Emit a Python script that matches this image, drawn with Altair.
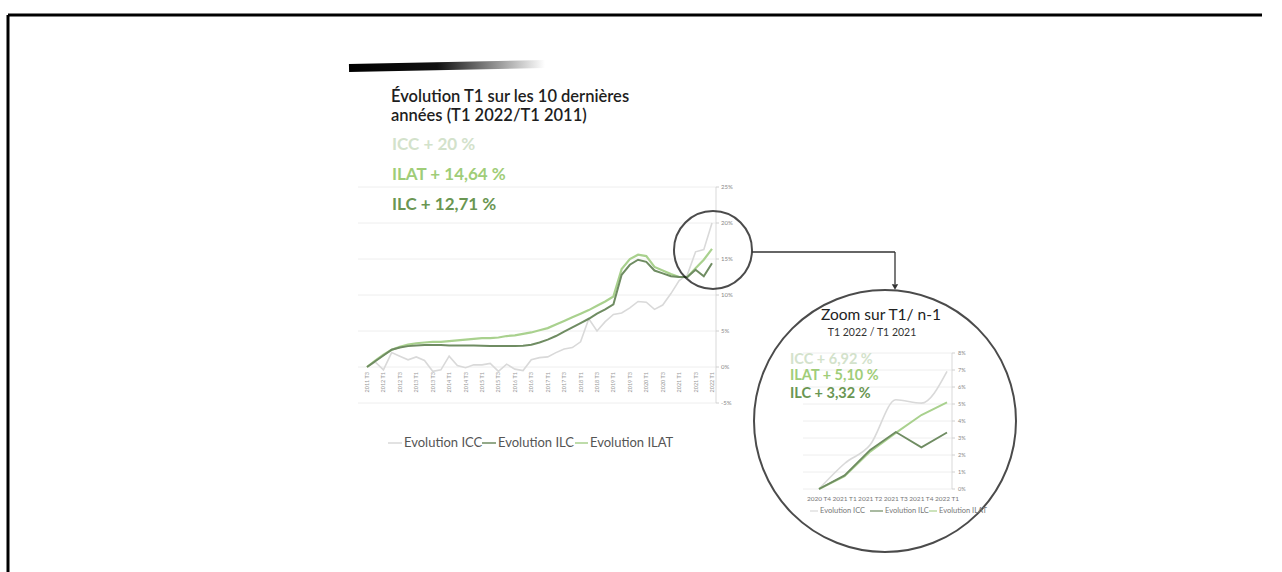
import altair as alt
import pandas as pd

# ---------------- data ----------------
x_tick_labels = ["2011 T3", "2012 T1", "2012 T3", "2013 T1", "2013 T3", "2014 T1", "2014 T3",
                 "2015 T1", "2015 T3", "2016 T1", "2016 T3", "2017 T1", "2017 T3", "2018 T1",
                 "2018 T3", "2019 T1", "2019 T3", "2020 T1", "2020 T3", "2021 T1", "2021 T3",
                 "2022 T1"]
y_tick_values = [-5, 0, 5, 10, 15, 20, 25]

icc = [0, 0.7, -0.4, 2.0, 1.5, 1.0, 1.4, 0.9, -0.6, -0.4, 1.5, 0.2, -0.1, 0.3, 0.3, 0.5,
       -0.6, 0.4, -0.3, -0.5, 1.0, 1.3, 1.4, 2.0, 2.5, 2.7, 3.5, 6.7, 5.0, 6.3, 7.3, 7.5,
       8.2, 9.1, 9.0, 8.0, 8.6, 10.2, 12.0, 12.8, 16.0, 16.3, 20.0]
ilc = [0, 0.8, 1.6, 2.4, 2.7, 2.9, 3.0, 3.05, 3.05, 3.05, 3.0, 3.0, 3.0, 3.0, 2.95, 2.9,
       2.9, 2.9, 2.9, 2.95, 3.1, 3.4, 3.8, 4.3, 4.9, 5.5, 6.1, 6.7, 7.4, 8.0, 8.7, 12.8,
       14.2, 14.9, 14.6, 13.4, 13.0, 12.6, 12.5, 12.5, 13.5, 12.6, 14.4]
ilat = [0, 0.9, 1.7, 2.4, 2.8, 3.1, 3.3, 3.4, 3.5, 3.5, 3.6, 3.7, 3.8, 3.9, 4.0, 4.0,
        4.1, 4.3, 4.4, 4.6, 4.8, 5.1, 5.4, 5.9, 6.4, 6.9, 7.4, 7.9, 8.5, 9.1, 9.8, 13.6,
        15.0, 15.6, 15.4, 13.9, 13.4, 12.9, 12.5, 12.5, 13.7, 14.9, 16.4]

series_names = ["Evolution ICC", "Evolution ILC", "Evolution ILAT"]
title_lines = ["Évolution T1 sur les 10 dernières", "années (T1 2022/T1 2011)"]
headlines = ["ICC + 20 %", "ILAT + 14,64 %", "ILC + 12,71 %"]

inset_periods = ["2020 T4", "2021 T1", "2021 T2", "2021 T3", "2021 T4", "2022 T1"]
inset_icc = [0, 1.5, 2.6, 5.25, 5.05, 6.92]
inset_ilc = [0, 0.8, 2.3, 3.35, 2.45, 3.32]
inset_ilat = [0, 0.75, 2.2, 3.3, 4.35, 5.10]
inset_y_ticks = [0, 1, 2, 3, 4, 5, 6, 7, 8]
inset_titles = ["Zoom sur T1/ n-1", "T1 2022 / T1 2021"]
inset_headlines = ["ICC + 6,92 %", "ILAT + 5,10 %", "ILC + 3,32 %"]

# ---------------- styles ----------------
FONT = "Lato"
C_ICC, C_ILC, C_ILAT = "#d9d9d9", "#6f8c62", "#a9d18e"
H_ICC, H_ILAT, H_ILC = "#d3e2cb", "#9fcd78", "#6a9652"

main_x = alt.Scale(domain=[0, 42], range=[367, 712], nice=False, zero=False)
main_y = alt.Scale(domain=[-5, 25], range=[403, 187], nice=False, zero=False)
ins_x = alt.Scale(domain=[0, 5], range=[819, 947], nice=False, zero=False)
ins_y = alt.Scale(domain=[0, 8], range=[489, 353], nice=False, zero=False)

one = pd.DataFrame({"k": [0]})


def txt(text, x, y, size, color, weight="normal", align="left", baseline="middle"):
    return alt.Chart(pd.DataFrame({"t": [text]})).mark_text(
        align=align, baseline=baseline, fontSize=size, font=FONT,
        fontWeight=weight, color=color
    ).encode(x=alt.value(x), y=alt.value(y), text="t:N")


def seg(x1, y1, x2, y2, color, width):
    return alt.Chart(one).mark_rule(color=color, strokeWidth=width).encode(
        x=alt.value(x1), y=alt.value(y1), x2=alt.value(x2), y2=alt.value(y2))


layers = []

# frame
layers.append(seg(8, 15, 1262, 15, "black", 3))
layers.append(seg(8, 15, 8, 572, "black", 3))

# brush stroke
layers.append(alt.Chart(one).mark_rule(
    strokeWidth=8, strokeCap="butt",
    stroke=alt.LinearGradient(gradient="linear", x1=0, x2=1, y1=0, y2=0,
                              stops=[alt.GradientStop(color="#000000", offset=0),
                                     alt.GradientStop(color="#111111", offset=0.45),
                                     alt.GradientStop(color="#ffffff", offset=1)])
).encode(x=alt.value(349), y=alt.value(68), x2=alt.value(545), y2=alt.value(64)))

# ---- main chart ----
grid_df = pd.DataFrame({"v": y_tick_values,
                        "lab": [f"{v}%" for v in y_tick_values]})
layers.append(alt.Chart(grid_df).mark_rule(color="#eeeeee", strokeWidth=1).encode(
    y=alt.Y("v:Q", scale=main_y, axis=None), x=alt.value(358), x2=alt.value(716)))
layers.append(seg(716, 187, 716, 403, "#d9d9d9", 1))
layers.append(alt.Chart(grid_df).mark_rule(color="#d0d0d0", strokeWidth=1).encode(
    y=alt.Y("v:Q", scale=main_y, axis=None), x=alt.value(716), x2=alt.value(719)))
layers.append(alt.Chart(grid_df).mark_text(
    align="left", baseline="middle", fontSize=6, font=FONT, color="#888888").encode(
    y=alt.Y("v:Q", scale=main_y, axis=None), x=alt.value(721), text="lab:N"))

xl_df = pd.DataFrame({"q": list(range(0, 43, 2)), "lab": x_tick_labels})
layers.append(alt.Chart(xl_df).mark_text(
    align="right", baseline="middle", angle=270, fontSize=5.5, font=FONT,
    color="#999999").encode(
    x=alt.X("q:Q", scale=main_x, axis=None), y=alt.value(372), text="lab:N"))

for vals, color, w in [(icc, C_ICC, 1.6), (ilat, C_ILAT, 2.2), (ilc, C_ILC, 2.0)]:
    df = pd.DataFrame({"q": list(range(len(vals))), "v": vals})
    layers.append(alt.Chart(df).mark_line(color=color, strokeWidth=w).encode(
        x=alt.X("q:Q", scale=main_x, axis=None),
        y=alt.Y("v:Q", scale=main_y, axis=None)))

# main legend
for (x1, x2, xt), name, color in zip([(388, 402, 404), (482, 496, 498), (575, 588, 590)],
                                     series_names, [C_ICC, C_ILC, C_ILAT]):
    layers.append(seg(x1, 443, x2, 443, color, 1.5))
    layers.append(txt(name, xt, 443, 13, "#555555"))

# titles
layers.append(txt(title_lines[0], 391, 97, 16.5, "#1e1e1e", weight=600))
layers.append(txt(title_lines[1], 391, 116, 16.5, "#1e1e1e", weight=600))
for s, y, c in zip(headlines, [145, 175, 205], [H_ICC, H_ILAT, H_ILC]):
    layers.append(txt(s, 392, y, 17, c, weight="bold"))

# small circle + connector
layers.append(alt.Chart(one).mark_point(shape="circle", filled=False, stroke="black",
                                        strokeWidth=2, size=78 * 78).encode(
    x=alt.value(713), y=alt.value(250)))
layers.append(seg(752, 252, 895, 252, "#333333", 1.3))
layers.append(seg(895, 252, 895, 284, "#333333", 1.3))
layers.append(alt.Chart(one).mark_point(shape="triangle-down", filled=True, color="#333333",
                                        size=40, opacity=1).encode(
    x=alt.value(895), y=alt.value(287)))

# big circle
layers.append(alt.Chart(one).mark_point(shape="circle", filled=False, stroke="black",
                                        strokeWidth=2, size=262 * 262).encode(
    x=alt.value(885), y=alt.value(421)))

# ---- inset chart ----
ig_df = pd.DataFrame({"v": inset_y_ticks, "lab": [f"{v}%" for v in inset_y_ticks]})
layers.append(alt.Chart(ig_df).mark_rule(color="#eeeeee", strokeWidth=1).encode(
    y=alt.Y("v:Q", scale=ins_y, axis=None), x=alt.value(803), x2=alt.value(952)))
layers.append(seg(952, 353, 952, 489, "#d9d9d9", 1))
layers.append(alt.Chart(ig_df).mark_rule(color="#d0d0d0", strokeWidth=1).encode(
    y=alt.Y("v:Q", scale=ins_y, axis=None), x=alt.value(952), x2=alt.value(955)))
layers.append(alt.Chart(ig_df).mark_text(
    align="left", baseline="middle", fontSize=5.5, font=FONT, color="#888888").encode(
    y=alt.Y("v:Q", scale=ins_y, axis=None), x=alt.value(958), text="lab:N"))

ixl_df = pd.DataFrame({"i": list(range(len(inset_periods))), "lab": inset_periods})
layers.append(alt.Chart(ixl_df).mark_text(
    align="center", baseline="middle", fontSize=6.5, font=FONT, color="#777777").encode(
    x=alt.X("i:Q", scale=ins_x, axis=None), y=alt.value(499), text="lab:N"))

for vals, color, w, interp in [(inset_icc, C_ICC, 1.6, "monotone"),
                               (inset_ilat, C_ILAT, 2.0, "linear"),
                               (inset_ilc, C_ILC, 1.8, "linear")]:
    df = pd.DataFrame({"i": list(range(len(vals))), "v": vals})
    layers.append(alt.Chart(df).mark_line(color=color, strokeWidth=w,
                                          interpolate=interp).encode(
        x=alt.X("i:Q", scale=ins_x, axis=None),
        y=alt.Y("v:Q", scale=ins_y, axis=None)))

for (x1, x2, xt), name, color in zip([(810, 818, 820), (870, 883, 885), (929, 937, 939)],
                                     series_names, [C_ICC, C_ILC, C_ILAT]):
    layers.append(seg(x1, 511, x2, 511, color, 1.2))
    layers.append(txt(name, xt, 511, 7.5, "#777777"))

layers.append(txt(inset_titles[0], 881, 315, 15.5, "#222222", align="center"))
layers.append(txt(inset_titles[1], 872, 333, 10.5, "#333333", align="center"))
for s, y, c in zip(inset_headlines, [360, 376, 394], [H_ICC, H_ILAT, H_ILC]):
    layers.append(txt(s, 790, y, 14.5, c, weight="bold"))

chart = alt.layer(*layers).resolve_scale(x="independent", y="independent").properties(
    width=1282, height=572, padding=0,
    autosize=alt.AutoSizeParams(type="none"),
    background="white"
).configure_view(stroke=None)

chart.save("out.html", embed_options={"renderer": "svg", "actions": False})
